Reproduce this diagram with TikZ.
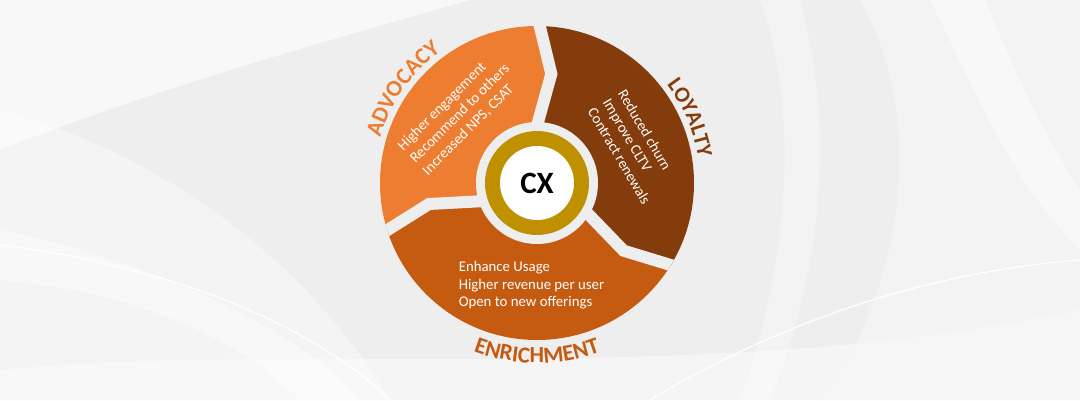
\documentclass[tikz,border=0pt]{standalone}
\usepackage{fontspec}
\setmainfont{Carlito}
\usepackage{tikz}
\usetikzlibrary{calc, decorations.text}

\definecolor{advc}{HTML}{ED7D31}
\definecolor{loyc}{HTML}{843C0C}
\definecolor{enrc}{HTML}{C55A11}
\definecolor{goldc}{HTML}{BF9000}
\definecolor{bgc}{HTML}{EEEEEE}

\begin{document}
\begin{tikzpicture}[
    x=1pt, y=1pt,
    item/.style={text=white, align=left, inner sep=0pt, font=\fontsize{14.8}{17.5}\selectfont},
    gap/.style={draw=bgc, line width=12pt, line join=miter},
    swoosh/.style={fill=white, opacity=0.45},
    arclabel/.style={decorate, decoration={text along path, text align=center}}
]
\useasboundingbox (-537,-217) rectangle (543,183);

% Background
\begin{scope}[shift={(-537,183)}, yscale=-1]
\fill[bgc] (0,0) rectangle (1080,400);
\fill[gray!9] (0,110) .. controls (150,150) and (300,250) .. (390,400) -- (0,400) -- cycle;
\fill[swoosh, opacity=0.6] (0,0) -- (470,0) .. controls (330,40) and (150,90) .. (0,150) -- cycle;
\fill[swoosh] (0,230) .. controls (150,260) and (300,330) .. (360,400) -- (300,400) .. controls (230,330) and (120,290) .. (0,280) -- cycle;
\fill[swoosh] (0,400) -- (0,370) .. controls (300,340) and (700,390) .. (1080,310) -- (1080,400) -- cycle;
\fill[gray!6, opacity=0.6] (860,0) .. controls (930,120) and (900,300) .. (820,400) -- (1080,400) -- (1080,0) -- cycle;
\fill[swoosh, opacity=0.35] (760,0) .. controls (800,110) and (790,260) .. (740,400) -- (770,400) .. controls (830,250) and (830,110) .. (800,0) -- cycle;
\fill[swoosh] (930,0) .. controls (980,100) and (1010,180) .. (1080,250) -- (1080,190) .. controls (1040,130) and (1010,60) .. (985,0) -- cycle;
\draw[white, line width=1.2pt] (0,245) .. controls (200,270) and (330,340) .. (390,400);
\draw[white, line width=1.2pt] (650,400) .. controls (800,310) and (950,270) .. (1080,260);
\end{scope}

% Segment borders
\coordinate (b1i) at (89:61);
\coordinate (b1v) at (82.5:110);
\coordinate (b1o) at (89:157);
\coordinate (b2i) at (-31.5:61);
\coordinate (b2v) at (-38:110);
\coordinate (b2o) at (-31.5:157);
\coordinate (b3i) at (197.5:61);
\coordinate (b3v) at (191:110);
\coordinate (b3o) at (197.5:157);

% Segments
\begin{scope}
\clip (0,0) circle (157);
\fill[advc] (0,0) -- ($(b1v)!1.6!(b1i)$) -- (b1v) -- ($(b1v)!1.8!(b1o)$) -- (120:230) -- (160:230)
    -- ($(b3v)!1.8!(b3o)$) -- (b3v) -- ($(b3v)!1.6!(b3i)$) -- cycle;
\fill[loyc] (0,0) -- ($(b2v)!1.6!(b2i)$) -- (b2v) -- ($(b2v)!1.8!(b2o)$) -- (0:230) -- (45:230)
    -- ($(b1v)!1.8!(b1o)$) -- (b1v) -- ($(b1v)!1.6!(b1i)$) -- cycle;
\fill[enrc] (0,0) -- ($(b3v)!1.6!(b3i)$) -- (b3v) -- ($(b3v)!1.8!(b3o)$) -- (240:230) -- (290:230)
    -- ($(b2v)!1.8!(b2o)$) -- (b2v) -- ($(b2v)!1.6!(b2i)$) -- cycle;
\draw[gap] ($(b1v)!1.6!(b1i)$) -- (b1v) -- ($(b1v)!1.8!(b1o)$);
\draw[gap] ($(b2v)!1.6!(b2i)$) -- (b2v) -- ($(b2v)!1.8!(b2o)$);
\draw[gap] ($(b3v)!1.6!(b3i)$) -- (b3v) -- ($(b3v)!1.8!(b3o)$);
\end{scope}

% Centre ring
\fill[bgc] (0,0) circle (61);
\fill[goldc] (0,0) circle (52);
\fill[white] (0,0) circle (37);
\node[font=\fontsize{31}{31}\selectfont\bfseries] (cx) at (0,0) {CX};

% Segment texts
\node[item, rotate=45] (advtxt) at (-77,69.5) {Higher engagement\\Recommend to others\\Increased NPS, CSAT};
\node[item, rotate=-59.5] (loytxt) at (97.5,36) {Reduced churn\\Improve CLTV\\Contract renewals};
\node[item] (enrtxt) at (-5.5,-102.5) {Enhance Usage\\Higher revenue per user\\Open to new offerings};

% Labels round the wheel
\path[arclabel, decoration={text={|\fontsize{23}{23}\selectfont\bfseries\color{advc}|ADVOCACY}}]
    (175:163) arc (175:115:163);
\path[arclabel, decoration={text={|\fontsize{22}{22}\selectfont\bfseries\color{loyc}|LOYALTY}}]
    (53:163) arc (53:-7:163);
\path[arclabel, decoration={text={|\fontsize{23}{23}\selectfont\bfseries\color{enrc}|ENRICHMENT}}]
    (235:180) arc (235:305:180);
\end{tikzpicture}
\end{document}
